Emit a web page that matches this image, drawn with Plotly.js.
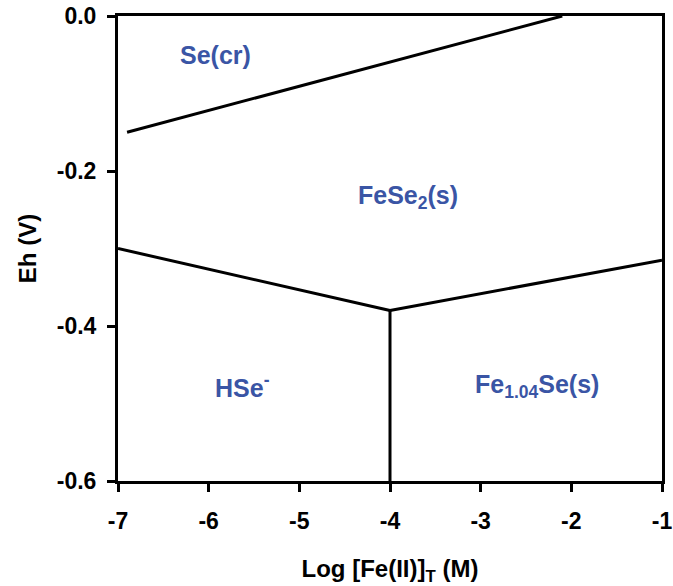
<!DOCTYPE html>
<html>
<head>
<meta charset="utf-8">
<script src="https://cdn.plot.ly/plotly-3.0.1.min.js"></script>
<style>html,body{margin:0;padding:0;background:#fff;}</style>
</head>
<body>
<div id="chart" style="width:673px;height:586px;"></div>
<script>
// Eh – log[Fe(II)]T predominance diagram boundaries
const seCrX = [-6.9, -2.1];
const seCrY = [-0.15, 0.0];
const hseX = [-7, -4];
const hseY = [-0.30, -0.38];
const feseX = [-4, -1];
const feseY = [-0.38, -0.315];
const vertX = [-4, -4];
const vertY = [-0.38, -0.6];

const fieldNames = ['Se(cr)', 'FeSe<sub>2</sub>(s)', 'HSe<sup>-</sup>', 'Fe<sub>1.04</sub>Se(s)'];
const fieldX = [-5.92, -3.8, -5.63, -2.38];
const fieldY = [-0.05, -0.234, -0.478, -0.478];

const xTicks = [-7, -6, -5, -4, -3, -2, -1];
const yTicks = [0, -0.2, -0.4, -0.6];
const yTickText = ['0.0', '-0.2', '-0.4', '-0.6'];

const lineStyle = {color: '#000', width: 3};
const traces = [
  {x: seCrX, y: seCrY},
  {x: hseX, y: hseY},
  {x: feseX, y: feseY},
  {x: vertX, y: vertY}
].map(t => Object.assign(t, {type: 'scatter', mode: 'lines', line: lineStyle, hoverinfo: 'skip', showlegend: false}));

const FAMILY = 'Liberation Sans, Arial, sans-serif';
const annotations = fieldNames.map((t, i) => ({
  x: fieldX[i], y: fieldY[i], xref: 'x', yref: 'y', text: '<b>' + t + '</b>',
  showarrow: false, font: {family: FAMILY, size: 25, color: '#3a55a5'}
}));

const tickFont = {family: FAMILY, size: 23, color: '#000', weight: 700};
const titleFont = {family: FAMILY, size: 24, color: '#000', weight: 700};
const bold = s => '<b>' + s + '</b>';

const layout = {
  width: 673, height: 586,
  margin: {l: 118, r: 11, t: 16, b: 105},
  paper_bgcolor: '#fff', plot_bgcolor: '#fff',
  showlegend: false,
  annotations: annotations,
  xaxis: {
    range: [-7, -1], tickvals: xTicks, ticktext: xTicks.map(v => bold(String(v))),
    showgrid: false, zeroline: false,
    showline: true, linecolor: '#000', linewidth: 3, mirror: true,
    ticks: 'outside', ticklen: 8, tickwidth: 3, tickcolor: '#000',
    tickfont: tickFont, ticklabelstandoff: 9, ticklabeloverflow: 'allow',
    title: {text: bold('Log [Fe(II)]<sub>T</sub> (M)'), font: titleFont, standoff: 28}
  },
  yaxis: {
    range: [-0.6, 0], tickvals: yTicks, ticktext: yTickText.map(bold),
    showgrid: false, zeroline: false,
    showline: true, linecolor: '#000', linewidth: 3, mirror: true,
    ticks: 'outside', ticklen: 8, tickwidth: 3, tickcolor: '#000',
    tickfont: tickFont, ticklabelstandoff: 6, ticklabeloverflow: 'allow',
    title: {text: bold('Eh (V)'), font: titleFont, standoff: 14}
  }
};

Plotly.newPlot('chart', traces, layout, {displayModeBar: false, staticPlot: true});
</script>
</body>
</html>
